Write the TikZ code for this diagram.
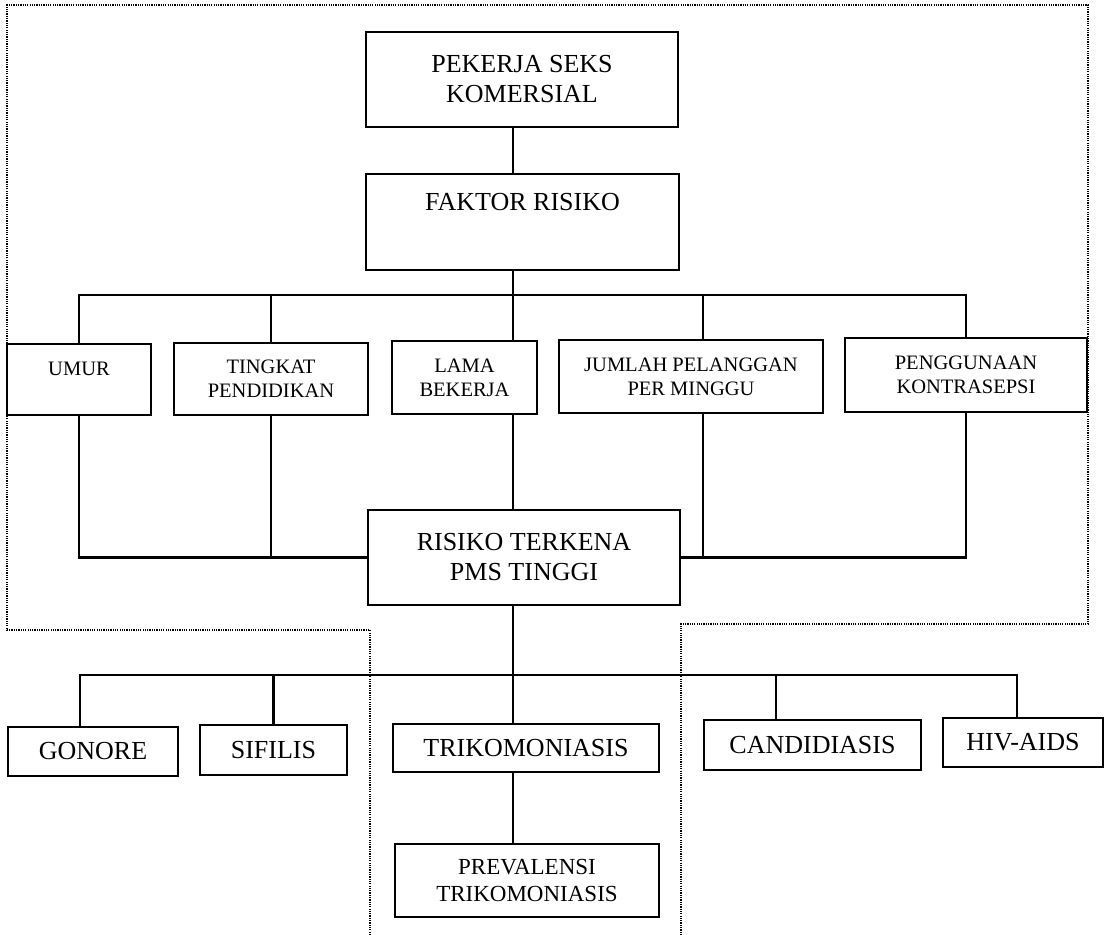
\documentclass[tikz,border=0pt]{standalone}
\usepackage{fontspec}
\setmainfont{Liberation Serif}
\newcommand\hurufbesar{\fontsize{26}{30}\selectfont}
\newcommand\hurufsedang{\fontsize{23}{27}\selectfont}
\newcommand\hurufkecil{\fontsize{20.5}{24}\selectfont}
\begin{document}
\begin{tikzpicture}[x=1pt,y=-1pt,
	kotak/.style={draw,line width=2.2pt,align=center,inner sep=0pt,font=\hurufbesar},
	kotakkecil/.style={kotak,font=\hurufkecil},
	garis/.style={line width=2.2pt},
	bingkai/.style={line width=1.8pt,dash pattern=on 1.2pt off 1.1pt}]
				\useasboundingbox (0,0) rectangle (1104,935);
				
				\draw[bingkai] (370,935) -- (370,630) -- (7,630) -- (7,5) -- (1088,5) -- (1088,624) -- (681,624) -- (681,935);
				
				\node[kotak,minimum width=312pt,minimum height=95pt] (pekerja) at (522,79.5) {PEKERJA SEKS\\KOMERSIAL};
				\node[kotak,minimum width=313pt,minimum height=96pt,text height=36.5pt,text depth=59.5pt] (faktor) at (522.5,222) {FAKTOR RISIKO};
				
				\node[kotakkecil,minimum width=144pt,minimum height=71pt,text height=31pt,text depth=40pt] (umur) at (79,379.5) {UMUR};
				\node[kotakkecil,minimum width=194pt,minimum height=72pt] (tingkat) at (271,379) {TINGKAT\\PENDIDIKAN};
				\node[kotakkecil,minimum width=145pt,minimum height=73pt] (lama) at (464.5,377.5) {LAMA\\BEKERJA};
				\node[kotakkecil,minimum width=264pt,minimum height=73pt] (jumlah) at (691,376.5) {JUMLAH PELANGGAN\\PER MINGGU};
				\node[kotakkecil,minimum width=242pt,minimum height=74pt] (penggunaan) at (966,375) {PENGGUNAAN\\KONTRASEPSI};
				
				\node[kotak,minimum width=312pt,minimum height=95pt] (risiko) at (524,557.5) {RISIKO TERKENA\\PMS TINGGI};
				
				\node[kotak,minimum width=170pt,minimum height=49pt] (gonore) at (93,751.5) {GONORE};
				\node[kotak,minimum width=147pt,minimum height=50pt] (sifilis) at (273.5,750) {SIFILIS};
				\node[kotak,minimum width=266pt,minimum height=48pt] (trikomoniasis) at (526,748) {TRIKOMONIASIS};
				\node[kotak,minimum width=217pt,minimum height=50pt] (candidiasis) at (812.5,745) {CANDIDIASIS};
				\node[kotak,minimum width=160pt,minimum height=49pt] (hiv) at (1023,742.5) {HIV-AIDS};
				\node[kotak,font=\hurufsedang,minimum width=264pt,minimum height=73pt] (prevalensi) at (527,880.5) {PREVALENSI\\TRIKOMONIASIS};
				
				\coordinate (poros) at (513,0);
				\coordinate (busatas) at (513,295);
				\coordinate (busbawah) at (513,675);
				
				\draw[garis] (pekerja.south -| poros) -- (faktor.north -| poros);
				\draw[garis] (faktor.south -| poros) -- (busatas);
				\draw[garis] (umur.north) -- (umur.north |- busatas) -- (penggunaan.north |- busatas) -- (penggunaan.north);
				\draw[garis] (tingkat.north) -- (tingkat.north |- busatas);
				\draw[garis] (lama.north -| poros) -- (busatas);
				\draw[garis] ([xshift=12pt]jumlah.north) -- ([xshift=12pt]jumlah.north |- busatas);
				
				\draw[garis] (umur.south) |- (risiko.west);
				\draw[garis] (tingkat.south) -- (tingkat.south |- risiko.west);
				\draw[garis] (lama.south -| poros) -- (risiko.north -| poros);
				\draw[garis] (penggunaan.south) |- (risiko.east);
				\draw[garis] ([xshift=12pt]jumlah.south) -- ([xshift=12pt]jumlah.south |- risiko.east);
				
				\draw[garis] (risiko.south -| poros) -- (trikomoniasis.north -| poros);
				\draw[garis] ([xshift=-13pt]gonore.north) -- ([xshift=-13pt]gonore.north |- busbawah) -- ([xshift=-6pt]hiv.north |- busbawah) -- ([xshift=-6pt]hiv.north);
				\draw[garis] (sifilis.north) -- (sifilis.north |- busbawah);
				\draw[garis] ([xshift=-36.5pt]candidiasis.north) -- ([xshift=-36.5pt]candidiasis.north |- busbawah);
				\draw[garis] (trikomoniasis.south -| poros) -- (prevalensi.north -| poros);
			\end{tikzpicture}
\end{document}
